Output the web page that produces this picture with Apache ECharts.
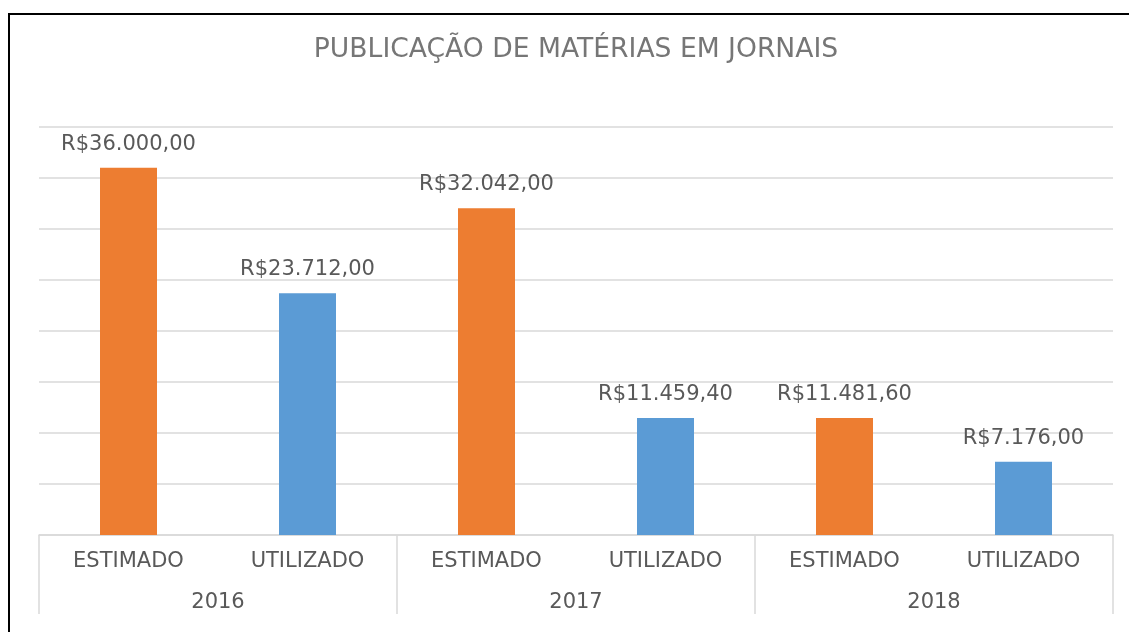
<!DOCTYPE html>
<html>
<head>
<meta charset="utf-8">
<script src="https://cdn.jsdelivr.net/npm/echarts@6/dist/echarts.min.js"></script>
<style>
  html, body { margin: 0; padding: 0; background: #ffffff; }
  #chart { width: 1129px; height: 632px; }
</style>
</head>
<body>
<div id="chart"></div>
<script>
// Budget for newspaper publications, estimated vs. used, per year
const years = ['2016', '2017', '2018'];
const kinds = ['ESTIMADO', 'UTILIZADO', 'ESTIMADO', 'UTILIZADO', 'ESTIMADO', 'UTILIZADO'];
const values = [36000.00, 23712.00, 32042.00, 11459.40, 11481.60, 7176.00];
const kindColors = { ESTIMADO: '#ED7D31', UTILIZADO: '#5B9BD5' };

const FONT = 'DejaVu Sans';
const TEXT = '#595959';

// Brazilian currency format: R$36.000,00
function brl(v) {
  const parts = v.toFixed(2).split('.');
  const intPart = parts[0].replace(/\B(?=(\d{3})+(?!\d))/g, '.');
  return 'R$' + intPart + ',' + parts[1];
}

const chart = echarts.init(document.getElementById('chart'), null, { renderer: 'canvas' });

chart.setOption({
  backgroundColor: '#ffffff',
  animation: false,
  title: {
    text: 'PUBLICAÇÃO DE MATÉRIAS EM JORNAIS',
    left: 571,
    textAlign: 'center',
    top: 32,
    textStyle: { fontFamily: FONT, fontSize: 26.6, fontWeight: 'normal', color: '#767676' }
  },
  graphic: [{
    type: 'rect',
    shape: { x: 9, y: 14, width: 1300, height: 800 },
    style: { fill: 'none', stroke: '#000000', lineWidth: 2 },
    z: 100
  }],
  grid: { left: 39, right: 16, top: 127, bottom: 97 },
  xAxis: [{
    type: 'category',
    data: kinds,
    axisLine: { show: true, lineStyle: { color: '#d9d9d9', width: 1.5 } },
    axisTick: { show: false },
    axisLabel: { margin: 16, fontFamily: FONT, fontSize: 21, color: TEXT }
  }, {
    type: 'category',
    data: years,
    position: 'bottom',
    axisLine: { show: false },
    axisTick: { show: true, length: 79, lineStyle: { color: '#d9d9d9', width: 1.5 } },
    axisLabel: { margin: 57, fontFamily: FONT, fontSize: 21, color: TEXT }
  }],
  yAxis: {
    type: 'value',
    min: 0,
    max: 40000,
    interval: 5000,
    axisLine: { show: false },
    axisTick: { show: false },
    axisLabel: { show: false },
    splitLine: { lineStyle: { color: '#d9d9d9', width: 1.5 } }
  },
  series: [{
    type: 'bar',
    xAxisIndex: 0,
    barWidth: 57,
    data: values.map((v, i) => ({ value: v, itemStyle: { color: kindColors[kinds[i]] } })),
    label: {
      show: true,
      position: 'top',
      distance: 13,
      formatter: p => brl(p.value),
      fontFamily: FONT,
      fontSize: 21,
      color: TEXT
    }
  }]
});
</script>
</body>
</html>
